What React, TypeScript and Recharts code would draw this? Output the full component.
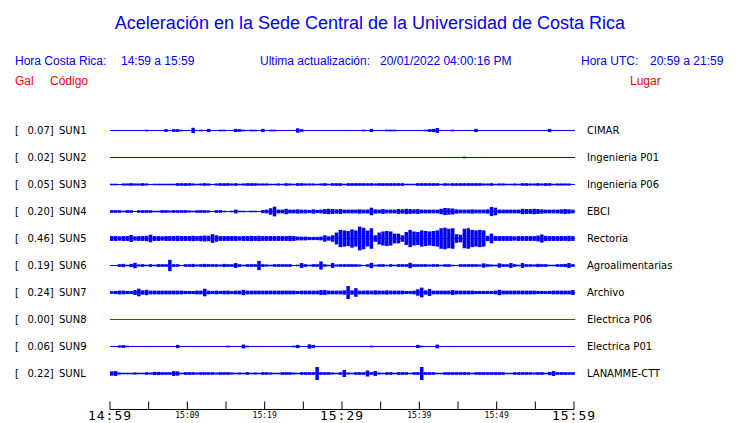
import { BarChart, Bar, LineChart, Line, XAxis, YAxis, ReferenceLine } from 'recharts'

// estaciones, valor pico (Gal) y lugar
const codes = ['SUN1', 'SUN2', 'SUN3', 'SUN4', 'SUN5', 'SUN6', 'SUN7', 'SUN8', 'SUN9', 'SUNL']
const peaks = ['0.07', '0.02', '0.05', '0.20', '0.46', '0.19', '0.24', '0.00', '0.06', '0.22']
const places = [
  'CIMAR', 'Ingenieria P01', 'Ingenieria P06', 'EBCI', 'Rectoria',
  'Agroalimentarias', 'Archivo', 'Electrica P06', 'Electrica P01', 'LANAMME-CTT',
]

// envolvente (centi-Gal) cada 30 s, 14:59 -> 15:59
const sun1 = [
  0, 0, 0, 0, 0, 0, 0, 0, 0, 3, 0, 0, 0, 0, 5, 0, 5, 5, 3, 0,
  2, 10, 0, 3, 0, 6, 0, 0, 3, 3, 0, 0, 6, 5, 3, 0, 3, 3, 0, 6,
  0, 3, 3, 0, 0, 0, 0, 0, 8, 5, 0, 0, 0, 0, 0, 0, 0, 0, 0, 0,
  0, 0, 0, 0, 0, 3, 0, 6, 0, 0, 0, 3, 3, 3, 0, 0, 0, 0, 0, 2,
  0, 3, 5, 6, 9, 0, 2, 0, 3, 0, 0, 0, 0, 0, 6, 0, 0, 0, 0, 0,
  0, 0, 0, 0, 0, 0, 0, 0, 2, 0, 0, 0, 0, 6, 0, 0, 0, 0, 2, 0,
]
const sun2 = [
  0, 0, 0, 0, 0, 0, 0, 0, 0, 0, 0, 0, 0, 0, 0, 0, 0, 0, 0, 0,
  0, 0, 0, 0, 0, 0, 0, 0, 0, 0, 0, 0, 0, 0, 0, 0, 0, 0, 0, 0,
  0, 0, 0, 0, 0, 0, 0, 0, 0, 0, 0, 0, 0, 0, 0, 0, 0, 0, 0, 0,
  0, 0, 0, 0, 0, 0, 0, 0, 0, 0, 0, 0, 0, 0, 0, 0, 0, 0, 0, 0,
  0, 0, 0, 0, 0, 0, 0, 0, 0, 0, 0, 3, 0, 0, 0, 0, 0, 0, 0, 0,
  0, 0, 0, 0, 0, 0, 0, 0, 0, 0, 0, 0, 0, 0, 0, 0, 0, 0, 0, 0,
]
const sun3 = [
  3, 3, 0, 4, 4, 5, 4, 4, 5, 4, 2, 3, 3, 3, 3, 3, 3, 5, 5, 5,
  5, 4, 3, 4, 5, 4, 2, 4, 5, 5, 5, 4, 5, 3, 4, 5, 5, 5, 4, 4,
  4, 3, 3, 4, 3, 5, 4, 3, 5, 5, 4, 4, 4, 3, 4, 5, 3, 5, 5, 5,
  3, 5, 5, 5, 5, 5, 5, 5, 4, 5, 5, 5, 5, 5, 5, 5, 3, 3, 3, 5,
  5, 5, 5, 5, 5, 3, 5, 4, 5, 5, 5, 5, 5, 5, 5, 5, 4, 4, 5, 3,
  4, 4, 3, 3, 4, 3, 5, 5, 4, 4, 5, 4, 5, 5, 3, 4, 4, 4, 4, 2,
]
const sun4 = [
  5, 5, 5, 3, 5, 5, 2, 5, 5, 5, 5, 3, 3, 5, 5, 4, 5, 5, 5, 5,
  4, 3, 5, 5, 5, 4, 2, 5, 5, 3, 2, 3, 7, 3, 3, 2, 3, 3, 2, 6,
  7, 12, 18, 7, 7, 10, 7, 7, 8, 7, 7, 6, 8, 6, 7, 9, 10, 9, 8, 9,
  7, 7, 7, 7, 8, 7, 7, 14, 8, 7, 9, 7, 7, 7, 9, 8, 10, 9, 8, 9,
  7, 7, 7, 7, 7, 10, 13, 12, 11, 8, 7, 7, 7, 8, 7, 7, 7, 8, 17, 14,
  7, 7, 7, 7, 7, 7, 10, 9, 9, 10, 9, 8, 7, 7, 7, 7, 8, 9, 8, 7,
]
const sun5 = [
  9, 9, 8, 9, 9, 13, 8, 9, 9, 10, 14, 9, 9, 8, 9, 9, 9, 10, 9, 9,
  9, 10, 9, 10, 11, 10, 16, 12, 9, 9, 9, 9, 9, 8, 9, 9, 10, 9, 10, 9,
  9, 9, 9, 9, 9, 9, 10, 9, 7, 7, 7, 6, 6, 6, 7, 12, 8, 12, 22, 32,
  30, 28, 34, 30, 44, 40, 30, 38, 12, 22, 26, 28, 26, 18, 18, 12, 24, 32, 26, 24,
  30, 28, 26, 28, 30, 38, 40, 36, 38, 16, 14, 36, 38, 32, 30, 32, 30, 10, 18, 9,
  9, 9, 9, 9, 8, 9, 9, 9, 9, 9, 11, 15, 10, 9, 9, 9, 9, 9, 10, 9,
]
const sun6 = [
  2, 2, 5, 6, 3, 6, 10, 4, 5, 3, 5, 3, 5, 5, 5, 21, 5, 5, 2, 5,
  5, 6, 4, 5, 6, 5, 5, 5, 4, 6, 5, 5, 9, 5, 3, 5, 5, 5, 17, 5,
  4, 3, 5, 5, 5, 5, 5, 2, 3, 9, 5, 3, 5, 5, 15, 5, 3, 9, 4, 5,
  5, 5, 5, 5, 4, 2, 5, 10, 3, 5, 5, 3, 5, 3, 5, 5, 5, 10, 5, 5,
  5, 5, 4, 5, 5, 3, 5, 5, 3, 2, 5, 5, 5, 5, 5, 4, 8, 5, 4, 3,
  8, 5, 5, 9, 5, 3, 9, 5, 5, 4, 6, 5, 5, 3, 3, 5, 5, 6, 9, 5,
]
const sun7 = [
  5, 6, 7, 7, 6, 6, 9, 14, 8, 10, 7, 7, 7, 7, 7, 7, 7, 7, 7, 6,
  6, 6, 7, 7, 14, 7, 6, 7, 6, 7, 7, 6, 7, 7, 10, 7, 7, 7, 7, 7,
  7, 7, 7, 7, 7, 7, 7, 7, 6, 7, 7, 7, 7, 7, 9, 9, 7, 7, 7, 7,
  8, 24, 8, 16, 7, 7, 7, 7, 8, 7, 7, 8, 7, 7, 7, 7, 6, 6, 7, 12,
  18, 8, 13, 7, 7, 7, 7, 7, 9, 7, 7, 7, 7, 7, 6, 6, 6, 6, 6, 7,
  10, 7, 7, 7, 7, 7, 7, 7, 7, 7, 6, 6, 6, 6, 7, 7, 7, 7, 7, 9,
]
const sun8 = [0, 0, 0, 0, 0, 0, 0, 0, 0, 0, 0, 0]
const sun9 = [
  0, 0, 4, 5, 3, 0, 0, 0, 0, 0, 0, 0, 0, 0, 0, 0, 0, 6, 0, 0,
  0, 0, 0, 0, 0, 0, 0, 0, 2, 2, 3, 0, 0, 0, 7, 3, 0, 0, 0, 0,
  0, 2, 0, 0, 0, 0, 0, 3, 6, 0, 0, 8, 6, 0, 0, 2, 0, 0, 0, 0,
  0, 0, 0, 0, 0, 0, 0, 3, 0, 0, 0, 2, 0, 0, 0, 0, 0, 0, 0, 6,
  3, 0, 0, 0, 7, 0, 0, 0, 0, 0, 0, 0, 0, 0, 0, 0, 0, 0, 0, 0,
  0, 0, 0, 0, 0, 0, 0, 0, 0, 0, 0, 0, 0, 0, 0, 0, 0, 0, 0, 0,
]
const sunL = [
  8, 9, 4, 3, 3, 3, 4, 3, 3, 5, 4, 6, 6, 5, 5, 5, 9, 8, 3, 5,
  5, 5, 4, 5, 5, 5, 5, 4, 5, 5, 5, 4, 3, 4, 3, 5, 3, 4, 3, 5,
  5, 4, 3, 3, 5, 5, 5, 4, 3, 5, 5, 5, 5, 24, 5, 5, 5, 4, 3, 5,
  13, 4, 3, 5, 5, 5, 11, 5, 9, 4, 3, 5, 5, 3, 5, 5, 5, 3, 5, 5,
  24, 5, 5, 5, 3, 3, 5, 5, 5, 5, 5, 5, 5, 3, 5, 5, 5, 5, 5, 5,
  5, 5, 3, 3, 5, 5, 5, 5, 5, 4, 5, 5, 3, 6, 9, 5, 5, 5, 5, 5,
]
const traces = [sun1, sun2, sun3, sun4, sun5, sun6, sun7, sun8, sun9, sunL]
const traceColors = ['#0000ff', '#0000ff', '#0000ff', '#0000ff', '#0000ff', '#0000ff', '#0000ff', '#ee0000', '#0000ff', '#0000ff']

// eje de tiempo, minutos desde 14:59
const axisMinutes = [0, 5, 10, 15, 20, 25, 30, 35, 40, 45, 50, 55, 60]
const axisLabels = ['14:59', '', '15:09', '', '15:19', '', '15:29', '', '15:39', '', '15:49', '', '15:59']
const bigLabels = ['14:59', '15:29', '15:59']

const BLUE = '#0000ff'
const RED = '#ff0000'
const ROW_TOP = 117
const ROW_H = 27

function Trace({ values, color, top }: { values: number[]; color: string; top: number }) {
  const data = values.map((a, i) => ({ i, band: [-a, a] }))
  return (
    <div style={{ position: 'absolute', left: 110, top, width: 465, height: ROW_H }}>
      <BarChart width={465} height={ROW_H} data={data} margin={{ top: 0, right: 0, bottom: 0, left: 0 }} barCategoryGap={0} barGap={0}>
        <XAxis dataKey="i" hide />
        <YAxis hide domain={[-50, 50]} />
        <ReferenceLine y={0} stroke={color} strokeWidth={1} />
        <Bar dataKey="band" fill={color} barSize={4} isAnimationActive={false} />
      </BarChart>
    </div>
  )
}

function TimeTick(props: any) {
  const { x, y, payload } = props
  const label = axisLabels[axisMinutes.indexOf(payload.value)]
  const big = bigLabels.includes(label)
  return (
    <g>
      <line x1={x} y1={y - 8} x2={x} y2={y} stroke="#000" strokeWidth={1} />
      {label && (
        <text
          x={x}
          y={y + (big ? 10.5 : 8.5)}
          textAnchor="middle"
          fontFamily="DejaVu Sans Mono"
          fontSize={big ? 13 : 8}
          letterSpacing={big ? 1 : 0}
          fill="#000"
        >
          {label}
        </text>
      )}
    </g>
  )
}

export default function App() {
  const axisData = axisMinutes.map((m) => ({ m }))
  return (
    <div style={{ position: 'absolute', left: 0, top: 0, width: 740, height: 423, background: '#fff', overflow: 'hidden' }}>
      <svg width={740} height={423} style={{ position: 'absolute', left: 0, top: 0 }}>
        <g fontFamily="Liberation Sans, Arial, sans-serif">
          <text x={370} y={29} textAnchor="middle" fontSize={18} fill={BLUE}>
            Aceleración en la Sede Central de la Universidad de Costa Rica
          </text>
          <text x={15} y={65} fontSize={12} fill={BLUE}>Hora Costa Rica:</text>
          <text x={121} y={65} fontSize={12} fill={BLUE}>14:59 a 15:59</text>
          <text x={260} y={65} fontSize={12} fill={BLUE}>Ultima actualización:</text>
          <text x={380} y={65} fontSize={12} fill={BLUE}>20/01/2022 04:00:16 PM</text>
          <text x={581} y={65} fontSize={12} fill={BLUE}>Hora UTC:</text>
          <text x={650} y={65} fontSize={12} fill={BLUE}>20:59 a 21:59</text>
          <text x={15} y={85} fontSize={12} fill={RED}>Gal</text>
          <text x={50} y={85} fontSize={12} fill={RED}>Código</text>
          <text x={630} y={85} fontSize={12} fill={RED}>Lugar</text>
        </g>
        <g fontFamily="DejaVu Sans" fontSize={10} fill="#000">
          {codes.map((c, i) => {
            const y = ROW_TOP + ROW_H * i + 17
            return (
              <g key={c}>
                <text x={15} y={y}>[</text>
                <text x={27.5} y={y}>{peaks[i]}]</text>
                <text x={59} y={y}>{c}</text>
                <text x={587} y={y}>{places[i]}</text>
              </g>
            )
          })}
        </g>
      </svg>
      {traces.map((t, i) => (
        <Trace key={codes[i]} values={t} color={traceColors[i]} top={ROW_TOP + ROW_H * i} />
      ))}
      <div style={{ position: 'absolute', left: 60, top: 395, width: 570, height: 28 }}>
        <LineChart width={570} height={28} data={axisData} margin={{ top: 0, right: 56, bottom: 0, left: 50 }} style={{ overflow: 'visible' }}>
          <XAxis
            dataKey="m"
            type="number"
            domain={[0, 60]}
            ticks={axisMinutes}
            interval={0}
            height={13.5}
            tickSize={0}
            tickMargin={0}
            tickLine={false}
            axisLine={{ stroke: '#000' }}
            tick={<TimeTick />}
          />
          <YAxis hide />
          <Line dataKey="m" stroke="none" dot={false} isAnimationActive={false} />
        </LineChart>
      </div>
    </div>
  )
}
